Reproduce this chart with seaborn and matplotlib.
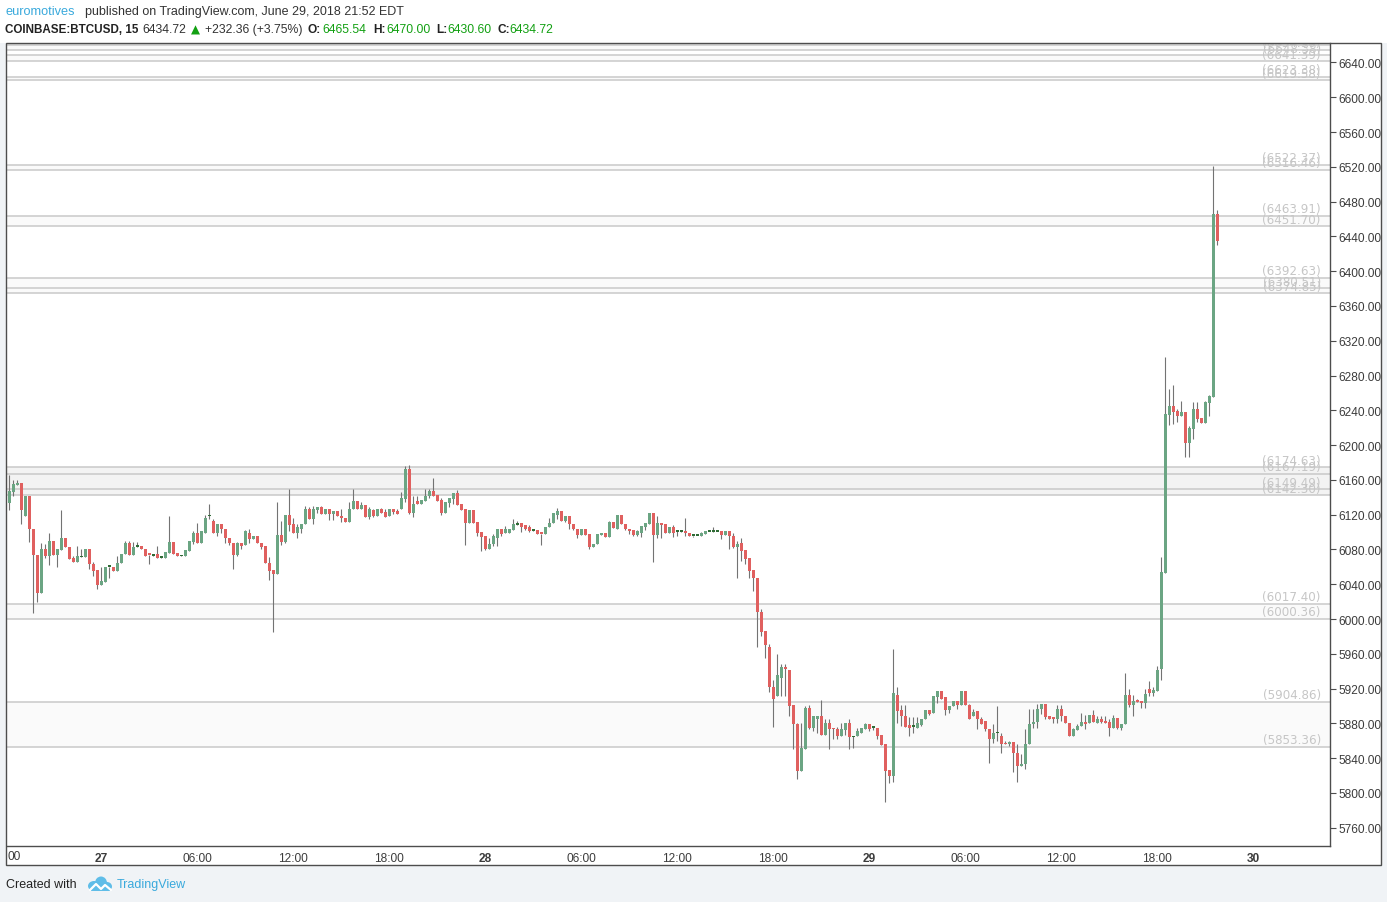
import matplotlib

matplotlib.use("Agg")
import matplotlib.pyplot as plt
import numpy as np
import pandas as pd
import seaborn as sns
from matplotlib.patches import Rectangle, Ellipse
from matplotlib.ticker import FuncFormatter

# ---------------------------------------------------------------------------
# Data: COINBASE:BTCUSD 15m candles, 26 Jun 18:15 -> 29 Jun 21:45 (EDT)
# ---------------------------------------------------------------------------

OPEN = [
    6134, 6146, 6154, 6157, 6118, 6141, 6104, 6074, 6030, 6080,
    6073, 6090, 6074, 6079, 6093, 6083, 6070, 6066, 6071, 6071,
    6081, 6063, 6056, 6039, 6043, 6060, 6060, 6055, 6064, 6075,
    6088, 6074, 6083, 6084, 6081, 6074, 6073, 6075, 6070, 6070,
    6076, 6089, 6076, 6072, 6072, 6078, 6089, 6099, 6088, 6099,
    6118, 6113, 6099, 6109, 6103, 6093, 6088, 6074, 6088, 6085,
    6099, 6092, 6096, 6088, 6084, 6065, 6056, 6052, 6097, 6089,
    6120, 6109, 6099, 6104, 6109, 6126, 6115, 6125, 6129, 6121,
    6127, 6121, 6124, 6119, 6116, 6112, 6126, 6136, 6126, 6131,
    6117, 6125, 6119, 6126, 6123, 6119, 6127, 6124, 6126, 6138,
    6173, 6122, 6136, 6132, 6136, 6142, 6147, 6143, 6137, 6122,
    6134, 6138, 6145, 6132, 6126, 6110, 6125, 6112, 6100, 6095,
    6080, 6086, 6093, 6103, 6099, 6099, 6102, 6108, 6110, 6108,
    6106, 6101, 6102, 6098, 6098, 6106, 6110, 6120, 6124, 6113,
    6118, 6109, 6104, 6097, 6104, 6098, 6083, 6086, 6097, 6099,
    6094, 6112, 6104, 6120, 6109, 6104, 6102, 6097, 6099, 6106,
    6109, 6122, 6097, 6111, 6109, 6099, 6106, 6100, 6100.5, 6100,
    6099, 6095.5, 6095.5, 6096, 6098, 6100, 6100, 6100, 6101, 6097,
    6101, 6096, 6083, 6087, 6079, 6070, 6056, 6047, 6008, 5986,
    5968, 5922, 5912, 5932, 5945, 5941, 5901, 5879, 5825, 5850,
    5898, 5875, 5885, 5888, 5867, 5880, 5875, 5874, 5866, 5872,
    5880, 5864, 5865, 5869, 5874, 5879, 5874.6, 5875, 5867, 5856,
    5826, 5819, 5913, 5895, 5888, 5878, 5876, 5875, 5878, 5885,
    5895, 5892, 5910, 5917, 5910, 5895, 5900, 5906, 5901, 5917,
    5901, 5889, 5894, 5885, 5883, 5874, 5862, 5868.6, 5865, 5858,
    5856, 5859, 5846, 5831, 5833, 5856, 5879, 5882, 5896, 5902,
    5888, 5887, 5885, 5897, 5889, 5881, 5866, 5872, 5877, 5882,
    5880, 5890, 5880, 5885, 5883, 5882, 5875, 5886, 5875, 5879,
    5913, 5901, 5906, 5906, 5903, 5920, 5915, 5917, 5943, 6053,
    6235, 6245, 6239, 6234, 6238, 6202, 6219, 6242, 6231, 6225,
    6248, 6255, 6465.54,
]
HIGH = [
    6166, 6160, 6160, 6157, 6141, 6141, 6104, 6074, 6088, 6086,
    6099, 6090, 6080, 6125, 6093, 6083, 6073, 6084, 6080, 6081,
    6081, 6066, 6056, 6060, 6060, 6060, 6060, 6072, 6075, 6090,
    6090, 6089, 6089, 6084, 6081, 6074, 6075, 6084, 6071, 6077,
    6118, 6089, 6076, 6074, 6079, 6090, 6101, 6110, 6101, 6120,
    6132, 6115, 6109, 6109, 6103, 6093, 6088, 6089, 6088, 6102,
    6104, 6096, 6096, 6088, 6084, 6071, 6056, 6135, 6113, 6120,
    6150, 6116, 6109, 6109, 6130, 6129, 6130, 6129, 6130, 6127,
    6127, 6124, 6124, 6127, 6116, 6135, 6150, 6136, 6135, 6131,
    6129, 6127, 6126, 6128, 6127, 6127, 6127, 6126, 6146, 6176,
    6177, 6141, 6141, 6137, 6150, 6150, 6162, 6143, 6139, 6135,
    6139, 6145, 6148, 6132, 6126, 6125, 6125, 6112, 6100, 6095,
    6093, 6098, 6103, 6103, 6107, 6103, 6115, 6113, 6110, 6108,
    6108, 6102, 6102, 6098, 6106, 6116, 6122, 6128, 6124, 6119,
    6118, 6109, 6104, 6104, 6104, 6098, 6086, 6098, 6099, 6099,
    6113, 6112, 6120, 6120, 6109, 6104, 6102, 6102, 6107, 6110,
    6122, 6122, 6119, 6111, 6109, 6106, 6108, 6101, 6101, 6116,
    6099, 6096, 6096, 6100, 6101, 6100.5, 6106, 6100.5, 6101, 6101,
    6101, 6099, 6090, 6093, 6079, 6070, 6056, 6047, 6012, 5986,
    5971, 5930, 5960, 5948, 5948, 5941, 5901, 5880, 5881, 5900,
    5901, 5888, 5889, 5907, 5885, 5885, 5875, 5876, 5881, 5880,
    5885, 5866, 5875, 5875, 5880, 5879, 5875.5, 5875, 5867, 5856,
    5826, 5966, 5922, 5901, 5901, 5887, 5887, 5887, 5885, 5895,
    5895, 5911, 5917, 5917, 5910, 5900, 5906, 5906, 5917, 5917,
    5902, 5896, 5894, 5887, 5883, 5874, 5879, 5900, 5869, 5860,
    5860, 5859, 5856, 5845, 5873, 5897, 5897, 5902, 5902, 5902,
    5888, 5887, 5901, 5901, 5889, 5881, 5875, 5879, 5892, 5890,
    5890, 5895, 5889, 5889, 5889, 5885, 5890, 5886, 5879, 5938,
    5920, 5913, 5908, 5906, 5920, 5929, 5922, 5946, 6071, 6301,
    6265, 6269, 6242, 6251, 6238, 6222, 6250, 6249, 6231, 6251,
    6258, 6521, 6470.00,
]
LOW = [
    6125, 6141, 6154, 6109, 6118, 6089, 6007, 6020, 6030, 6070,
    6062, 6074, 6060, 6079, 6083, 6069, 6066, 6066, 6071, 6071,
    6057, 6050, 6035, 6039, 6043, 6047, 6055, 6055, 6064, 6075,
    6074, 6074, 6083, 6080, 6073, 6063, 6073, 6070, 6070, 6070,
    6076, 6075, 6072, 6072, 6072, 6078, 6086, 6087, 6088, 6099,
    6115, 6099, 6096, 6099, 6088, 6085, 6057, 6072, 6081, 6085,
    6087, 6092, 6087, 6080, 6064, 6045, 5985, 6052, 6085, 6087,
    6101, 6099, 6093, 6099, 6109, 6115, 6109, 6122, 6121, 6121,
    6114, 6114, 6119, 6112, 6112, 6112, 6126, 6126, 6126, 6117,
    6115, 6117, 6119, 6122, 6117, 6119, 6121, 6121, 6126, 6135,
    6121, 6117, 6132, 6132, 6136, 6139, 6141, 6136, 6120, 6122,
    6129, 6132, 6131, 6125, 6085, 6110, 6111, 6096, 6078, 6079,
    6080, 6084, 6084, 6095, 6099, 6099, 6102, 6108, 6100, 6102,
    6100, 6101, 6098, 6085, 6098, 6106, 6110, 6115, 6113, 6112,
    6104, 6102, 6093, 6097, 6097, 6081, 6083, 6086, 6097, 6094,
    6094, 6105, 6104, 6109, 6102, 6098, 6096, 6096, 6094, 6102,
    6109, 6066, 6093, 6093, 6099, 6099, 6094, 6096, 6100, 6096,
    6096, 6094, 6095, 6096, 6098, 6100, 6100, 6100, 6092, 6097,
    6081, 6082, 6047, 6067, 6063, 6047, 6032, 5968, 5981, 5955,
    5916, 5876, 5912, 5912, 5912, 5889, 5850, 5816, 5825, 5850,
    5874, 5871, 5869, 5867, 5867, 5850, 5862, 5862, 5866, 5867,
    5850, 5852, 5865, 5869, 5874, 5871, 5872, 5862, 5855, 5790,
    5811, 5813, 5880, 5877, 5876, 5865, 5869, 5875, 5877, 5885,
    5890, 5892, 5903, 5908, 5890, 5892, 5900, 5896, 5901, 5901,
    5885, 5889, 5873, 5879, 5871, 5834, 5857, 5860, 5846, 5856,
    5854, 5824, 5813, 5831, 5828, 5856, 5875, 5875, 5891, 5885,
    5885, 5880, 5880, 5883, 5880, 5866, 5866, 5872, 5877, 5873,
    5880, 5882, 5880, 5880, 5881, 5866, 5875, 5873, 5872, 5879,
    5899, 5889, 5905, 5898, 5898, 5912, 5912, 5917, 5930, 6053,
    6223, 6224, 6227, 6234, 6186, 6186, 6207, 6226, 6225, 6225,
    6234, 6255, 6430.60,
]
CLOSE = [
    6147, 6155, 6157, 6125, 6141, 6103, 6074, 6030, 6080, 6073,
    6090, 6074, 6080, 6093, 6083, 6069, 6066, 6072, 6071.6, 6081,
    6063, 6055, 6039, 6044, 6060, 6060.3, 6055, 6065, 6075, 6088,
    6074, 6083, 6084, 6080, 6073, 6073.4, 6074.5, 6070, 6070.5, 6077,
    6089, 6075, 6072, 6073, 6079, 6090, 6099, 6087, 6101, 6116,
    6118.6, 6099, 6109, 6103, 6093, 6087, 6074, 6088, 6084, 6101,
    6092, 6096, 6087, 6083, 6064, 6055, 6052, 6097, 6089, 6120,
    6108, 6099, 6106, 6109, 6126, 6115, 6126, 6129, 6121, 6127,
    6121, 6124, 6119, 6116, 6112, 6127, 6136, 6126, 6131, 6117,
    6127, 6119, 6126, 6122, 6117, 6127, 6123, 6121, 6139, 6173,
    6122, 6132, 6132, 6137, 6142, 6147, 6141, 6136, 6122, 6135,
    6139, 6145, 6131, 6125, 6110, 6125, 6111, 6099, 6094, 6080,
    6086, 6096, 6103, 6098, 6104, 6103, 6109, 6108.6, 6106, 6104,
    6101, 6101.5, 6098, 6097.6, 6106, 6111, 6122, 6124, 6113, 6118,
    6109, 6103, 6097, 6104, 6097, 6083, 6086, 6098, 6098.6, 6094,
    6112, 6105, 6120, 6109, 6103, 6101, 6097, 6101, 6107, 6110,
    6122, 6097, 6111, 6108, 6099, 6106, 6099, 6100.4, 6100.9, 6099,
    6096, 6095.6, 6095.9, 6099, 6101, 6100.2, 6100.2, 6100.2, 6097, 6101,
    6095, 6083, 6086, 6078, 6069, 6055, 6047, 6008, 5985, 5970,
    5922, 5908, 5936, 5945, 5943, 5900, 5879, 5825, 5852, 5898,
    5875, 5888, 5889, 5867, 5880, 5874, 5873, 5865, 5873, 5880,
    5864, 5865.4, 5871, 5875, 5879, 5874, 5875, 5865, 5855, 5825,
    5819, 5915, 5894, 5888, 5876, 5875, 5876.4, 5880, 5885, 5895,
    5891, 5911, 5917, 5908, 5895, 5900, 5906, 5901, 5917, 5901,
    5885, 5893, 5885, 5879, 5873, 5862, 5869, 5869, 5856, 5856,
    5859, 5846, 5831, 5833, 5856, 5879, 5882, 5896, 5902, 5887,
    5885, 5885, 5897, 5888, 5880, 5866, 5873, 5877, 5882, 5879,
    5890, 5882, 5885, 5882, 5881, 5875, 5886, 5875, 5879, 5913,
    5901, 5906, 5905, 5903, 5914, 5915, 5918, 5941, 6054, 6236,
    6245, 6238, 6234, 6238, 6202, 6220, 6242, 6230, 6225, 6249,
    6256, 6466, 6434.72,
]

# horizontal levels drawn by the author
LEVELS = [6659.60, 6654.90, 6648.38, 6641.39, 6623.38, 6619.58, 6522.37,
          6516.46, 6463.91, 6451.70, 6392.63, 6380.51, 6374.85, 6174.63,
          6167.19, 6149.49, 6142.30, 6017.40, 6000.36, 5904.86, 5853.36]
ZONES = [(6654.90, 6659.60), (6641.39, 6648.38), (6619.58, 6623.38),
         (6516.46, 6522.37), (6451.70, 6463.91), (6374.85, 6392.63),
         (6142.30, 6174.63), (6000.36, 6017.40), (5853.36, 5904.86)]
ZONE_COLORS = ["#fafafa", "#fafafa", "#fafafa", "#fafafa", "#fafafa",
               "#fafafa", "#f3f3f3", "#fafafa", "#fafafa"]

PRICE_TICKS = list(range(5760, 6641, 40))
TIME_TICK_CANDLE = [23, 47, 71, 95, 119, 143, 167, 191, 215, 239, 263, 287, 311]
TIME_TICK_LABELS = ["27", "06:00", "12:00", "18:00", "28", "06:00", "12:00",
                    "18:00", "29", "06:00", "12:00", "18:00", "30"]

UP = "#6ba583"
DOWN = "#e0605f"
UP_DOJI = "#2f6b35"
WICK = "#737373"
GREEN_TXT = "#12a012"
BLUE_TXT = "#39a9dc"
NARROW = ["Liberation Sans Narrow", "Liberation Sans"]

W, H = 1387, 903


def fx(x):
    return x / W


def fy(y):
    return 1 - y / H


sns.set_theme(style="white")
plt.rcParams["font.family"] = ["Liberation Sans", "DejaVu Sans"]

df = pd.DataFrame({"open": OPEN, "high": HIGH, "low": LOW, "close": CLOSE})
df["idx"] = np.arange(len(df))
df["up"] = df["close"] >= df["open"]
df["body_lo"] = df[["open", "close"]].min(axis=1)
df["body_h"] = (df["close"] - df["open"]).abs()
df["doji"] = df["body_h"] < 1.6
df["color"] = np.where(df["up"], UP, DOWN)
df.loc[df["doji"] & df["up"], "color"] = UP_DOJI
df["body_h"] = df["body_h"].clip(lower=1.3)
df.loc[df["doji"], "body_h"] = 2.0

fig = plt.figure(figsize=(W / 100, H / 100), dpi=100)
fig.patch.set_facecolor("#f0f3f6")
fig.patches.append(Rectangle((0, fy(44)), 1, 44 / H, transform=fig.transFigure,
                             facecolor="white", edgecolor="none", zorder=-2))
fig.patches.append(Rectangle((fx(6), fy(866)), (1381 - 6) / W, (866 - 44) / H,
                             transform=fig.transFigure, facecolor="white",
                             edgecolor="none", zorder=-1))

ax = fig.add_axes([fx(7), fy(847), (1330 - 7) / W, (847 - 44) / H])
ax.set_facecolor("white")
ax.set_xlim(-0.575, 330.2)
ax.set_ylim(5739.0, 6662.4)

# zones + levels
for (lo, hi), c in zip(ZONES, ZONE_COLORS):
    ax.axhspan(lo, hi, color=c, lw=0, zorder=0)
for p in LEVELS:
    ax.axhline(p, color="#c9c9c9", lw=1.1, zorder=0.5)
    ax.text(0.9931, p + 0.6, f"({p:.2f})", transform=ax.get_yaxis_transform(),
            ha="right", va="bottom", color="#c6c6c6", fontsize=8.6,
            family="DejaVu Sans", zorder=0.6, clip_on=True)

# candles
ax.vlines(df["idx"], df["low"], df["high"], colors=WICK, lw=0.8, zorder=1)
ax.bar(df["idx"], df["body_h"], bottom=df["body_lo"], width=0.74,
       color=df["color"], linewidth=0, zorder=2)

# axes styling
sns.despine(ax=ax, left=True, top=True, right=False, bottom=False)
for s in ("right", "bottom"):
    ax.spines[s].set_color("#4d4d4d")
    ax.spines[s].set_linewidth(1.0)
ax.yaxis.tick_right()
ax.set_yticks(PRICE_TICKS)
ax.yaxis.set_major_formatter(FuncFormatter(lambda v, _: f"{v:.2f}"))
ax.set_xticks(TIME_TICK_CANDLE)
ax.set_xticklabels(TIME_TICK_LABELS)
ax.tick_params(axis="both", direction="out", length=4, width=0.8,
               color="#4d4d4d", labelcolor="#3c3c3c", labelsize=8.6)
ax.tick_params(axis="y", pad=2)
ax.tick_params(axis="x", pad=0.5)
for lab in ax.get_xticklabels():
    lab.set_family(NARROW)
    if ":" not in lab.get_text():
        lab.set_fontweight("bold")
for lab in ax.get_yticklabels():
    lab.set_family(NARROW)
ax.grid(False)
fig.text(fx(8), fy(857), "00", ha="left", va="center", fontsize=8.6,
         color="#3c3c3c", family=NARROW)

# pane border
fig.patches.append(Rectangle((fx(6), fy(866)), (1381 - 6) / W, (866 - 44) / H,
                             transform=fig.transFigure, facecolor="none",
                             edgecolor="#4d4d4d", lw=1.0, zorder=10))

# header
fig.text(fx(5), fy(12), "euromotives", color=BLUE_TXT, fontsize=9.2, va="center")
fig.text(fx(85), fy(12), "published on TradingView.com, June 29, 2018 21:52 EDT",
         color="#333333", fontsize=9.0, va="center")
hdr = [
    (5, "COINBASE:BTCUSD, 15", "#222222", "bold", 8.35),
    (142, "6434.72", "#333333", "normal", 8.8),
    (205, "+232.36 (+3.75%)", "#333333", "normal", 8.8),
    (308, "O:", "#222222", "bold", 8.6),
    (322, "6465.54", GREEN_TXT, "normal", 8.8),
    (373, "H:", "#222222", "bold", 8.6),
    (386, "6470.00", GREEN_TXT, "normal", 8.8),
    (436, "L:", "#222222", "bold", 8.6),
    (447, "6430.60", GREEN_TXT, "normal", 8.8),
    (497, "C:", "#222222", "bold", 8.6),
    (509, "6434.72", GREEN_TXT, "normal", 8.8),
]
for x, s, c, w, fs in hdr:
    fig.text(fx(x), fy(30), s, color=c, fontsize=fs, fontweight=w, va="center")
fig.text(fx(191), fy(30), "\u25b2", color=GREEN_TXT, fontsize=8.5,
         family="DejaVu Sans", va="center")

# footer
fig.text(fx(6), fy(885), "Created with", color="#222222", fontsize=9.0, va="center")
fig.text(fx(117), fy(885), "TradingView", color=BLUE_TXT, fontsize=9.0, va="center")
lax = fig.add_axes([fx(87), fy(894), 26 / W, 18 / H])
lax.set_xlim(0, 26)
lax.set_ylim(0, 18)
lax.axis("off")
for cx, cy, ww, hh in [(7, 7, 12, 10), (14, 10, 12, 13), (20, 6.5, 10, 9)]:
    lax.add_patch(Ellipse((cx, cy), ww, hh, color="#5fbde8", lw=0))
lax.add_patch(Rectangle((4, 2), 19, 5, color="#5fbde8", lw=0))
lax.plot([3, 9, 14, 18, 24], [3, 9, 4, 8, 3], color="white", lw=1.6)

fig.savefig("out.png", dpi=100, facecolor=fig.get_facecolor())
